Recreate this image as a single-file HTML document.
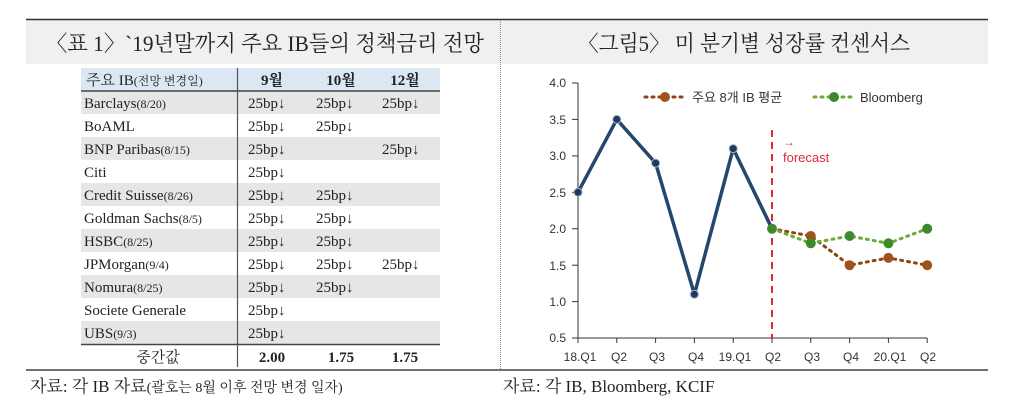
<!DOCTYPE html>
<html><head><meta charset="utf-8"><style>
html,body{margin:0;padding:0;background:#fff;}
svg{display:block}
.t{font-family:"Liberation Serif","Noto Serif CJK SC","Noto Sans CJK KR",serif;fill:#222}
.s{font-family:"Liberation Sans","Noto Sans CJK KR",sans-serif;fill:#333}
</style></head><body>
<svg width="1024" height="416" xmlns="http://www.w3.org/2000/svg">
<rect x="26" y="19" width="962" height="45" fill="#f0f0f0"/>
<line x1="26" y1="19.5" x2="988" y2="19.5" stroke="#333" stroke-width="1.5"/>
<line x1="500.5" y1="20" x2="500.5" y2="370" stroke="#888" stroke-dasharray="1,1"/>
<text x="46" y="51" class="t" font-size="22" textLength="438" lengthAdjust="spacingAndGlyphs">〈표 1〉`19년말까지 주요 IB들의 정책금리 전망</text>
<text x="578" y="51" class="t" font-size="22" textLength="332" lengthAdjust="spacingAndGlyphs">〈그림5〉 미 분기별 성장률 컨센서스</text>
<!-- table -->
<rect x="81" y="68" width="359" height="23" fill="#dbe8f4"/>
<g fill="#e6e6e6">
<rect x="81" y="91" width="359" height="23"/>
<rect x="81" y="137" width="359" height="23"/>
<rect x="81" y="183" width="359" height="23"/>
<rect x="81" y="229" width="359" height="23"/>
<rect x="81" y="275" width="359" height="23"/>
<rect x="81" y="321" width="359" height="23"/>
</g>
<line x1="81" y1="91" x2="440" y2="91" stroke="#444" stroke-width="1.5"/>
<line x1="81" y1="344.5" x2="440" y2="344.5" stroke="#444" stroke-width="1.5"/>
<line x1="237.5" y1="68" x2="237.5" y2="367" stroke="#555" stroke-width="1.2"/>
<line x1="26" y1="370" x2="988" y2="370" stroke="#444" stroke-width="1.5"/>
<g class="t" font-size="15">
<text x="86" y="85" font-size="15">주요 IB<tspan font-size="12">(전망 변경일)</tspan></text>
<text x="272" y="85" text-anchor="middle" font-weight="bold">9월</text>
<text x="341" y="85" text-anchor="middle" font-weight="bold">10월</text>
<text x="405" y="85" text-anchor="middle" font-weight="bold">12월</text>
<text x="84" y="108">Barclays<tspan font-size="12">(8/20)</tspan></text>
<text x="84" y="131">BoAML</text>
<text x="84" y="154">BNP Paribas<tspan font-size="12">(8/15)</tspan></text>
<text x="84" y="177">Citi</text>
<text x="84" y="200">Credit Suisse<tspan font-size="12">(8/26)</tspan></text>
<text x="84" y="223">Goldman Sachs<tspan font-size="12">(8/5)</tspan></text>
<text x="84" y="246">HSBC<tspan font-size="12">(8/25)</tspan></text>
<text x="84" y="269">JPMorgan<tspan font-size="12">(9/4)</tspan></text>
<text x="84" y="292">Nomura<tspan font-size="12">(8/25)</tspan></text>
<text x="84" y="315">Societe Generale</text>
<text x="84" y="338">UBS<tspan font-size="12">(9/3)</tspan></text>
<g>
<text x="248" y="108">25bp↓</text><text x="316" y="108">25bp↓</text><text x="382" y="108">25bp↓</text>
<text x="248" y="131">25bp↓</text><text x="316" y="131">25bp↓</text>
<text x="248" y="154">25bp↓</text><text x="382" y="154">25bp↓</text>
<text x="248" y="177">25bp↓</text>
<text x="248" y="200">25bp↓</text><text x="316" y="200">25bp↓</text>
<text x="248" y="223">25bp↓</text><text x="316" y="223">25bp↓</text>
<text x="248" y="246">25bp↓</text><text x="316" y="246">25bp↓</text>
<text x="248" y="269">25bp↓</text><text x="316" y="269">25bp↓</text><text x="382" y="269">25bp↓</text>
<text x="248" y="292">25bp↓</text><text x="316" y="292">25bp↓</text>
<text x="248" y="315">25bp↓</text>
<text x="248" y="338">25bp↓</text>
</g>
<text x="158" y="362" text-anchor="middle">중간값</text>
<text x="272" y="362" text-anchor="middle" font-weight="bold">2.00</text>
<text x="341" y="362" text-anchor="middle" font-weight="bold">1.75</text>
<text x="405" y="362" text-anchor="middle" font-weight="bold">1.75</text>
</g>
<text x="30" y="392" class="t" font-size="17">자료: 각 IB 자료<tspan font-size="14">(괄호는 8월 이후 전망 변경 일자)</tspan></text>
<text x="503" y="392" class="t" font-size="17">자료: 각 IB, Bloomberg, KCIF</text>
<!-- chart -->
<g class="s" font-size="12" text-anchor="end">
<text x="566" y="87">4.0</text><text x="566" y="124">3.5</text><text x="566" y="160">3.0</text>
<text x="566" y="197">2.5</text><text x="566" y="233">2.0</text><text x="566" y="270">1.5</text>
<text x="566" y="306">1.0</text><text x="566" y="342">0.5</text>
</g>
<g stroke="#333" stroke-width="1">
<line x1="578" y1="83" x2="578" y2="338"/>
<line x1="578" y1="338" x2="927" y2="338"/>
<line x1="572" y1="83" x2="578" y2="83"/><line x1="572" y1="119.4" x2="578" y2="119.4"/>
<line x1="572" y1="155.9" x2="578" y2="155.9"/><line x1="572" y1="192.3" x2="578" y2="192.3"/>
<line x1="572" y1="228.7" x2="578" y2="228.7"/><line x1="572" y1="265.2" x2="578" y2="265.2"/>
<line x1="572" y1="301.6" x2="578" y2="301.6"/><line x1="572" y1="338" x2="578" y2="338"/>
<line x1="616.8" y1="338" x2="616.8" y2="343"/><line x1="655.6" y1="338" x2="655.6" y2="343"/>
<line x1="694.4" y1="338" x2="694.4" y2="343"/><line x1="733.2" y1="338" x2="733.2" y2="343"/>
<line x1="772" y1="338" x2="772" y2="343"/><line x1="810.8" y1="338" x2="810.8" y2="343"/>
<line x1="849.6" y1="338" x2="849.6" y2="343"/><line x1="888.4" y1="338" x2="888.4" y2="343"/>
<line x1="927.2" y1="338" x2="927.2" y2="343"/><line x1="578" y1="338" x2="578" y2="343"/>
</g>
<g class="s" font-size="12" text-anchor="middle">
<text x="580" y="361">18.Q1</text><text x="619" y="361">Q2</text><text x="657" y="361">Q3</text>
<text x="696" y="361">Q4</text><text x="735" y="361">19.Q1</text><text x="773" y="361">Q2</text>
<text x="812" y="361">Q3</text><text x="851" y="361">Q4</text><text x="890" y="361">20.Q1</text>
<text x="928" y="361">Q2</text>
</g>
<line x1="772" y1="130" x2="772" y2="338" stroke="#e0283a" stroke-width="2" stroke-dasharray="7,5"/>
<text x="783" y="146" font-family="Liberation Sans,sans-serif" font-size="12" fill="#e0283a">→</text>
<text x="783" y="162" font-family="Liberation Sans,sans-serif" font-size="13" fill="#e0283a">forecast</text>
<polyline points="578,192.3 616.8,119.4 655.6,163.1 694.4,294.3 733.2,148.6 772,228.7" fill="none" stroke="#25466e" stroke-width="3.5" stroke-linejoin="round"/>
<g fill="#1f3a5c" stroke="#9fb3c8" stroke-width="1">
<circle cx="578" cy="192.3" r="4"/><circle cx="616.8" cy="119.4" r="4"/><circle cx="655.6" cy="163.1" r="4"/>
<circle cx="694.4" cy="294.3" r="4"/><circle cx="733.2" cy="148.6" r="4"/>
</g>
<polyline points="772,228.7 810.8,236 849.6,265.2 888.4,257.9 927.2,265.2" fill="none" stroke="#8b4513" stroke-width="3" stroke-dasharray="2,5" stroke-linecap="round"/>
<polyline points="772,228.7 810.8,243.3 849.6,236 888.4,243.3 927.2,228.7" fill="none" stroke="#6aaa3a" stroke-width="3" stroke-dasharray="2,5" stroke-linecap="round"/>
<g fill="#a0521a"><circle cx="810.8" cy="236" r="5"/><circle cx="849.6" cy="265.2" r="5"/><circle cx="888.4" cy="257.9" r="5"/><circle cx="927.2" cy="265.2" r="5"/></g>
<g fill="#3d8a2a"><circle cx="772" cy="228.7" r="5"/><circle cx="810.8" cy="243.3" r="5"/><circle cx="849.6" cy="236" r="5"/><circle cx="888.4" cy="243.3" r="5"/><circle cx="927.2" cy="228.7" r="5"/></g>
<!-- legend -->
<line x1="645" y1="97" x2="686" y2="97" stroke="#8b4513" stroke-width="3" stroke-dasharray="2,5" stroke-linecap="round"/>
<circle cx="665" cy="97" r="5" fill="#a0521a"/>
<text x="692" y="102" class="s" font-size="13">주요 8개 IB 평균</text>
<line x1="814" y1="97" x2="856" y2="97" stroke="#6aaa3a" stroke-width="3" stroke-dasharray="2,5" stroke-linecap="round"/>
<circle cx="834" cy="97" r="5" fill="#3d8a2a"/>
<text x="860" y="102" class="s" font-size="13">Bloomberg</text>
</svg>
</body></html>
